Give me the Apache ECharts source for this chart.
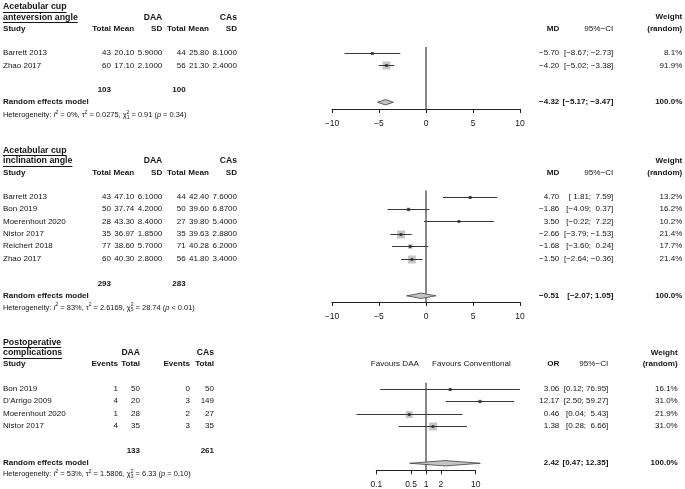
<!DOCTYPE html>
<html><head><meta charset="utf-8">
<script src="https://cdn.jsdelivr.net/npm/echarts@6/dist/echarts.min.js"></script>
<style>html,body{margin:0;padding:0;background:#fff}#c{width:685px;height:489px}</style>
</head><body><div id="c"></div>
<script>
// ---------- Panel 1: acetabular cup anteversion angle ----------
const anteStudy = ["Barrett 2013", "Zhao 2017"];
const anteDaaN = [43, 60];
const anteDaaMean = [20.10, 17.10];
const anteDaaSD = [5.9, 2.1];
const anteCaN = [44, 56];
const anteCaMean = [25.80, 21.30];
const anteCaSD = [8.1, 2.4];
const anteMD = [-5.70, -4.20];
const anteLo = [-8.67, -5.02];
const anteHi = [-2.73, -3.38];
const anteW = [8.1, 91.9];
const anteTotals = [103, 100];
const anteRE = [-4.32, -5.17, -3.47];
const anteHet = ["0%", "0.0275", "1", "0.91", "= 0.34"];
// ---------- Panel 2: acetabular cup inclination angle ----------
const inclStudy = ["Barrett 2013", "Bon 2019", "Moerenhout 2020", "Nistor 2017", "Reichert 2018", "Zhao 2017"];
const inclDaaN = [43, 50, 28, 35, 77, 60];
const inclDaaMean = [47.10, 37.74, 43.30, 36.97, 38.60, 40.30];
const inclDaaSD = [6.1, 4.2, 8.4, 1.85, 5.7, 2.8];
const inclCaN = [44, 50, 27, 35, 71, 56];
const inclCaMean = [42.40, 39.60, 39.80, 39.63, 40.28, 41.80];
const inclCaSD = [7.6, 6.87, 5.4, 2.88, 6.2, 3.4];
const inclMD = [4.70, -1.86, 3.50, -2.66, -1.68, -1.50];
const inclLo = [1.81, -4.09, -0.22, -3.79, -3.60, -2.64];
const inclHi = [7.59, 0.37, 7.22, -1.53, 0.24, -0.36];
const inclW = [13.2, 16.2, 10.2, 21.4, 17.7, 21.4];
const inclTotals = [293, 283];
const inclRE = [-0.51, -2.07, 1.05];
const inclHet = ["83%", "2.6169", "5", "28.74", "< 0.01"];
// ---------- Panel 3: postoperative complications ----------
const compStudy = ["Bon 2019", "D'Arrigo 2009", "Moerenhout 2020", "Nistor 2017"];
const compDaaEv = [1, 4, 1, 4];
const compDaaN = [50, 20, 28, 35];
const compCaEv = [0, 3, 2, 3];
const compCaN = [50, 149, 27, 35];
const compOR = [3.06, 12.17, 0.46, 1.38];
const compLo = [0.12, 2.50, 0.04, 0.28];
const compHi = [76.95, 59.27, 5.43, 6.66];
const compW = [16.1, 31.0, 21.9, 31.0];
const compTotals = [133, 261];
const compRE = [2.42, 0.47, 12.35];
const compHet = ["53%", "1.5806", "3", "6.33", "= 0.10"];
// ---------- axis ticks ----------
const mdTicks = [-10, -5, 0, 5, 10];
const orTicks = [0.1, 0.5, 1, 2, 10];

// ================= drawing =================
const FF = '"Liberation Sans", Arial, Helvetica, sans-serif';
const TXT = '#151515';
const BODY = 8;
const HEAD = 8.1;
const chart = echarts.init(document.getElementById('c'), null, {renderer: 'canvas'});
const minus = s => String(s).replace(/-/g, '\u2212');
const fmt = (v, d) => (v < 0 ? '\u2212' : '') + Math.abs(v).toFixed(d);

// box sizes (meta style: area proportional to fixed-effect weight)
function boxSizes(w, maxSide) {
  const m = Math.max.apply(null, w);
  return w.map(x => maxSide * Math.sqrt(x / m));
}
const ivW = (lo, hi) => lo.map((l, i) => 1 / Math.pow((hi[i] - l) / 3.92, 2));
const mhW = () => compDaaEv.map((a, i) => {
  let b = compDaaN[i] - a, c = compCaEv[i], d = compCaN[i] - c;
  if (a === 0 || b === 0 || c === 0 || d === 0) { a += .5; b += .5; c += .5; d += .5; }
  return b * c / (a + b + c + d);
});
const anteBox = boxSizes(ivW(anteLo, anteHi), 8);
const inclBox = boxSizes(ivW(inclLo, inclHi), 8);
const compBox = boxSizes(mhW(), 8);

function ciRender(params, api) {
  const est = api.value(0), lo = api.value(1), hi = api.value(2), row = api.value(3), size = api.value(4);
  const c = api.coord([est, row]), a = api.coord([lo, row]), b = api.coord([hi, row]);
  const y = Math.round(c[1]) + 0.5;
  return {type: 'group', children: [
    {type: 'rect', shape: {x: c[0] - size / 2, y: y - size / 2, width: size, height: size}, style: {fill: '#c6c6c6'}},
    {type: 'line', shape: {x1: a[0], y1: y, x2: b[0], y2: y}, style: {stroke: '#383838', lineWidth: 1}},
    {type: 'rect', shape: {x: c[0] - 1.3, y: y - 1.3, width: 2.6, height: 2.6}, style: {fill: '#2a2a2a'}}
  ]};
}
function diaRender(params, api) {
  const est = api.value(0), lo = api.value(1), hi = api.value(2), row = api.value(3);
  const c = api.coord([est, row]), a = api.coord([lo, row]), b = api.coord([hi, row]);
  const h = 2.7;
  return {type: 'polygon', shape: {points: [[a[0], c[1]], [c[0], c[1] - h], [b[0], c[1]], [c[0], c[1] + h]]},
    style: {fill: '#c4c4c4', stroke: '#404040', lineWidth: 0.8}};
}

const panels = [
  {grid: {left: 332, width: 188, top: 47, height: 62}, ymax: 4.55, est: anteMD, lo: anteLo, hi: anteHi, box: anteBox, re: anteRE, reRow: 4, ref: 0},
  {grid: {left: 332, width: 188, top: 190.5, height: 111.5}, ymax: 8.5, est: inclMD, lo: inclLo, hi: inclHi, box: inclBox, re: inclRE, reRow: 8, ref: 0},
  {grid: {left: 332, width: 188, top: 382.7, height: 88}, ymax: 6.6, est: compOR, lo: compLo, hi: compHi, box: compBox, re: compRE, reRow: 6, ref: 1}
];

const axisCommon = {
  axisLine: {show: true, onZero: false, lineStyle: {color: '#222', width: 1}},
  axisTick: {show: true, length: 4, lineStyle: {color: '#222', width: 1}},
  axisLabel: {fontSize: 8.5, fontFamily: FF, color: TXT, margin: 10},
  splitLine: {show: false}
};

const grids = panels.map(p => p.grid);
grids.push({left: 376.3, width: 99.4, top: 470.2, height: 0.5});
const xAxes = [
  Object.assign({gridIndex: 0, type: 'value', min: mdTicks[0], max: mdTicks[4], interval: 5}, axisCommon,
    {axisLabel: Object.assign({}, axisCommon.axisLabel, {formatter: v => minus(v)})}),
  Object.assign({gridIndex: 1, type: 'value', min: mdTicks[0], max: mdTicks[4], interval: 5}, axisCommon,
    {axisLabel: Object.assign({}, axisCommon.axisLabel, {formatter: v => minus(v)})}),
  {gridIndex: 2, type: 'log', logBase: 10, min: Math.pow(10, -1.89), max: Math.pow(10, 1.89), show: false},
  Object.assign({gridIndex: 3, type: 'value', min: Math.log10(orTicks[0]), max: Math.log10(orTicks[4])}, axisCommon, {
    axisTick: Object.assign({}, axisCommon.axisTick, {customValues: orTicks.map(Math.log10)}),
    axisLabel: Object.assign({}, axisCommon.axisLabel, {customValues: orTicks.map(Math.log10),
      formatter: v => String(+Math.pow(10, v).toPrecision(2))})
  })
];
const yAxes = panels.map((p, i) => ({gridIndex: i, type: 'value', inverse: true, min: -0.5, max: p.ymax, show: false}));
yAxes.push({gridIndex: 3, type: 'value', min: 0, max: 1, show: false});

const series = [];
panels.forEach((p, i) => {
  series.push({
    type: 'line', xAxisIndex: i, yAxisIndex: i, silent: true, symbol: 'none', z: 1,
    data: [[p.ref, -0.5], [p.ref, p.ymax]], lineStyle: {color: '#111', width: 1}, animation: false
  });
  series.push({
    type: 'custom', xAxisIndex: i, yAxisIndex: i, silent: true, z: 2, animation: false, clip: false,
    encode: {x: [0, 1, 2], y: 3},
    data: p.est.map((e, k) => [e, p.lo[k], p.hi[k], k, p.box[k]]),
    renderItem: ciRender
  });
  series.push({
    type: 'custom', xAxisIndex: i, yAxisIndex: i, silent: true, z: 2, animation: false, clip: false,
    encode: {x: [0, 1, 2], y: 3},
    data: [[p.re[0], p.re[1], p.re[2], p.reRow]],
    renderItem: diaRender
  });
});

chart.setOption({animation: false, backgroundColor: '#fff', grid: grids, xAxis: xAxes, yAxis: yAxes, series: series});

// ---------- text table ----------
const mctx = document.createElement('canvas').getContext('2d');
const fontStr = (size, bold, italic) => (italic ? 'italic ' : '') + (bold ? 'bold ' : '') + size + 'px ' + FF;
const G = [];
function T(x, y, text, o) {
  o = o || {};
  const f = fontStr(o.size || BODY, o.bold, o.italic);
  G.push({type: 'text', x: x, y: y, silent: true,
    style: {text: String(text), font: f, fill: TXT, align: o.align || 'left', verticalAlign: 'middle'}});
  if (o.underline) {
    mctx.font = f;
    const w = mctx.measureText(String(text)).width;
    const x0 = o.align === 'right' ? x - w : x;
    G.push({type: 'line', silent: true, shape: {x1: x0, y1: Math.round(y + 5) + 0.5, x2: x0 + w, y2: Math.round(y + 5) + 0.5},
      style: {stroke: TXT, lineWidth: 1}});
  }
}
function padSet(arr) {
  const s = arr.map(v => fmt(v, 2));
  const m = Math.max.apply(null, s.map(x => x.length));
  return s.map(x => ' '.repeat(m - x.length) + x);
}
function ciStrings(lo, hi) {
  const L = padSet(lo), H = padSet(hi);
  return L.map((l, i) => '[' + l + '; ' + H[i] + ']');
}
function het(x, y, h) {
  const s = 7.45;
  const rich = {
    n: {font: fontStr(s), fill: TXT, lineHeight: 10},
    i: {font: fontStr(s, false, true), fill: TXT, lineHeight: 10},
    sp: {font: fontStr(5), fill: TXT, lineHeight: 5, verticalAlign: 'top'},
    sp0: {font: fontStr(5), fill: TXT, lineHeight: 5, verticalAlign: 'top', width: 0.01},
    sb: {font: fontStr(5), fill: TXT, lineHeight: 5, verticalAlign: 'bottom'}
  };
  const text = '{n|Heterogeneity: }{i|I}{sp|2}{n| = ' + h[0] + ', }{n|\u03c4}{sp|2}{n| = ' + h[1] +
    ', }{n|\u03c7}{sp0|2}{sb|' + h[2] + '}{n| = ' + h[3] + ' (}{i|p}{n| ' + h[4] + ')}';
  G.push({type: 'text', x: x, y: y, silent: true,
    style: {text: text, rich: rich, font: fontStr(s), fill: TXT, align: 'left', verticalAlign: 'middle'}});
}
const rowY = (g, r) => chart.convertToPixel({gridIndex: g}, [panels[g].ref === 1 ? 1 : 0, r])[1];

const XL = 3;
const meanCols = [111, 134.3, 162.3, 185.7, 209, 237];
const evCols = [118, 140, 190, 214];
const XMD = 559.3;

// Panel 1 & 2 (continuous)
function contPanel(g, title1, title2, st, dN, dM, dS, cN, cM, cS, md, lo, hi, w, tot, re, reRow, h, hetOff) {
  const r0 = rowY(g, 0);
  T(XL, r0 - 46.5, title1, {bold: true, size: 8.8, underline: true});
  T(XL, r0 - 36, title2, {bold: true, size: 8.8, underline: true});
  T(meanCols[2], r0 - 36, 'DAA', {bold: true, size: 8.6, align: 'right'});
  T(meanCols[5], r0 - 36, 'CAs', {bold: true, size: 8.6, align: 'right'});
  T(682.3, r0 - 36, 'Weight', {bold: true, size: HEAD, align: 'right'});
  const hy = r0 - 24.3;
  T(XL, hy, 'Study', {bold: true, size: HEAD});
  ['Total', 'Mean', 'SD', 'Total', 'Mean', 'SD'].forEach((s, k) => T(meanCols[k], hy, s, {bold: true, size: HEAD, align: 'right'}));
  T(XMD, hy, 'MD', {bold: true, size: HEAD, align: 'right'});
  T(613.3, hy, '95%\u2212CI', {size: HEAD, align: 'right'});
  T(682.3, hy, '(random)', {bold: true, size: HEAD, align: 'right'});
  const cis = ciStrings(lo, hi);
  st.forEach((name, k) => {
    const y = rowY(g, k);
    T(XL, y, name);
    const vals = [dN[k], dM[k].toFixed(2), dS[k].toFixed(4), cN[k], cM[k].toFixed(2), cS[k].toFixed(4)];
    vals.forEach((v, j) => T(meanCols[j], y, v, {align: 'right'}));
    T(XMD, y, fmt(md[k], 2), {align: 'right'});
    T(613.3, y, cis[k], {align: 'right'});
    T(682.3, y, w[k].toFixed(1) + '%', {align: 'right'});
  });
  const ty = rowY(g, reRow - 1);
  T(meanCols[0], ty, tot[0], {bold: true, align: 'right'});
  T(meanCols[3], ty, tot[1], {bold: true, align: 'right'});
  const ry = rowY(g, reRow);
  T(XL, ry, 'Random effects model', {bold: true});
  T(XMD, ry, fmt(re[0], 2), {bold: true, align: 'right'});
  T(613.3, ry, '[' + fmt(re[1], 2) + '; ' + fmt(re[2], 2) + ']', {bold: true, align: 'right'});
  T(682.3, ry, '100.0%', {bold: true, align: 'right'});
  het(XL, ry + hetOff, h);
}
contPanel(0, 'Acetabular cup', 'anteversion angle', anteStudy, anteDaaN, anteDaaMean, anteDaaSD, anteCaN, anteCaMean, anteCaSD,
  anteMD, anteLo, anteHi, anteW, anteTotals, anteRE, 4, anteHet, 12.8);
contPanel(1, 'Acetabular cup', 'inclination angle', inclStudy, inclDaaN, inclDaaMean, inclDaaSD, inclCaN, inclCaMean, inclCaSD,
  inclMD, inclLo, inclHi, inclW, inclTotals, inclRE, 8, inclHet, 11.7);

// Panel 3 (binary)
(function () {
  const g = 2, r0 = rowY(g, 0);
  T(XL, r0 - 46.5, 'Postoperative', {bold: true, size: 8.8, underline: true});
  T(XL, r0 - 36, 'complications', {bold: true, size: 8.8, underline: true});
  T(evCols[1], r0 - 36, 'DAA', {bold: true, size: 8.6, align: 'right'});
  T(evCols[3], r0 - 36, 'CAs', {bold: true, size: 8.6, align: 'right'});
  T(677.7, r0 - 36.5, 'Weight', {bold: true, size: HEAD, align: 'right'});
  const hy = r0 - 24.7;
  T(XL, hy, 'Study', {bold: true, size: HEAD});
  ['Events', 'Total', 'Events', 'Total'].forEach((s, k) => T(evCols[k], hy, s, {bold: true, size: HEAD, align: 'right'}));
  T(419, hy, 'Favours DAA', {size: HEAD, align: 'right'});
  T(432, hy, 'Favours Conventional', {size: HEAD});
  T(XMD, hy, 'OR', {bold: true, size: HEAD, align: 'right'});
  T(608.3, hy, '95%\u2212CI', {size: HEAD, align: 'right'});
  T(677.7, hy, '(random)', {bold: true, size: HEAD, align: 'right'});
  const cis = ciStrings(compLo, compHi);
  compStudy.forEach((name, k) => {
    const y = rowY(g, k);
    T(XL, y, name);
    [compDaaEv[k], compDaaN[k], compCaEv[k], compCaN[k]].forEach((v, j) => T(evCols[j], y, v, {align: 'right'}));
    T(XMD, y, fmt(compOR[k], 2), {align: 'right'});
    T(608.3, y, cis[k], {align: 'right'});
    T(677.7, y, compW[k].toFixed(1) + '%', {align: 'right'});
  });
  const ty = rowY(g, 5);
  T(evCols[1], ty, compTotals[0], {bold: true, align: 'right'});
  T(evCols[3], ty, compTotals[1], {bold: true, align: 'right'});
  const ry = rowY(g, 6);
  T(XL, ry, 'Random effects model', {bold: true});
  T(XMD, ry, fmt(compRE[0], 2), {bold: true, align: 'right'});
  T(608.3, ry, '[' + fmt(compRE[1], 2) + '; ' + fmt(compRE[2], 2) + ']', {bold: true, align: 'right'});
  T(677.7, ry, '100.0%', {bold: true, align: 'right'});
  het(XL, ry + 11, compHet);
})();

chart.setOption({graphic: G});
</script>
</body></html>
